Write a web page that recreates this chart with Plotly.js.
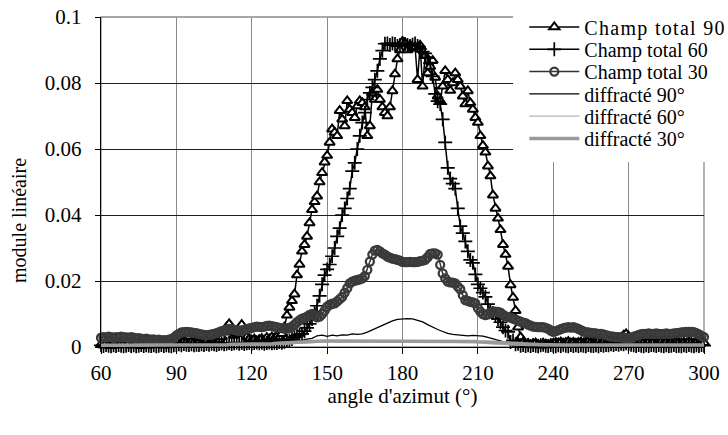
<!DOCTYPE html>
<html>
<head>
<meta charset="utf-8">
<script src="https://cdn.plot.ly/plotly-3.0.1.min.js"></script>
<style>
html,body{margin:0;padding:0;background:#fff;}
#chart{width:728px;height:435px;}
.legendtext{letter-spacing:1.3px;}
</style>
</head>
<body>
<div id="chart"></div>
<script>
// sample grid: azimuth angle, 1 degree steps 60..300
var angle = [];
for (var a = 60; a <= 300; a++) angle.push(a);
// diffracted fields sampled every 2 degrees 60..300
var angleDiff = [];
for (var b = 60; b <= 300; b += 2) angleDiff.push(b);

var total90 = [
0.0008,0.0005,0.001,0.0006,0.0004,0.0009,0.0007,0.0005,0.001,0.0008,
0.0006,0.0009,0.0005,0.0008,0.001,0.0006,0.0004,0.0008,0.0007,0.0005,
0.0009,0.0006,0.0008,0.0011,0.0007,0.0005,0.0009,0.0006,0.0008,0.001,
0.0012,0.0015,0.0013,0.0017,0.0014,0.0012,0.0016,0.0013,0.0011,0.0014,
0.0012,0.0015,0.0018,0.0014,0.0016,0.002,0.0018,0.0022,0.003,0.0045,
0.006,0.007,0.005,0.0035,0.004,0.0055,0.0068,0.005,0.003,0.0025,
0.002,0.0024,0.0018,0.0022,0.0025,0.002,0.0028,0.0024,0.003,0.0027,
0.0032,0.003,0.004,0.006,0.0096,0.012,0.014,0.016,0.0218,0.025,
0.029,0.031,0.0335,0.0376,0.0416,0.044,0.0457,0.05,0.0528,0.056,
0.058,0.062,0.066,0.065,0.064,0.0716,0.069,0.067,0.0746,0.072,
0.071,0.0695,0.073,0.0746,0.074,0.0727,0.064,0.067,0.077,0.075,
0.078,0.075,0.0727,0.071,0.07,0.0727,0.0776,0.0827,0.0873,0.09,
0.0925,0.092,0.09,0.0915,0.0905,0.0909,0.081,0.0914,0.079,0.0883,
0.083,0.085,0.0868,0.0817,0.076,0.0746,0.079,0.0837,0.081,0.0777,
0.08,0.083,0.081,0.079,0.076,0.0736,0.0776,0.074,0.072,0.0695,
0.068,0.064,0.061,0.059,0.0548,0.0518,0.046,0.042,0.039,0.0355,
0.031,0.028,0.0244,0.0188,0.015,0.011,0.006,0.003,0.0015,0.0008,
0.001,0.0006,0.0009,0.0012,0.0007,0.0005,0.001,0.0008,0.0006,0.0009,
0.0011,0.0014,0.0012,0.0015,0.001,0.0013,0.0016,0.0012,0.0014,0.0011,
0.0013,0.0015,0.0012,0.0016,0.0018,0.0014,0.0012,0.0015,0.0017,0.0013,
0.0015,0.0012,0.0016,0.0019,0.0015,0.0018,0.0022,0.0028,0.0035,0.004,
0.0032,0.0025,0.0018,0.0014,0.0012,0.0016,0.0013,0.0011,0.0015,0.0012,
0.0014,0.001,0.0013,0.0016,0.0012,0.0015,0.0011,0.0014,0.0012,0.0015,
0.0013,0.0011,0.0014,0.0012,0.0016,0.0013,0.0011,0.0014,0.0012,0.0015,
0.0013];

var total60 = [
0.0005,0.0003,0.0006,0.0004,0.0002,0.0005,0.0003,0.0006,0.0004,0.0002,
0.0004,0.0006,0.0003,0.0005,0.0002,0.0004,0.0006,0.0003,0.0005,0.0004,
0.0003,0.0005,0.0002,0.0004,0.0006,0.0003,0.0005,0.0004,0.0002,0.0005,
0.0006,0.0008,0.0005,0.0009,0.0007,0.0006,0.0008,0.0005,0.0007,0.0006,
0.0008,0.0006,0.0009,0.0007,0.001,0.0008,0.0006,0.0009,0.0011,0.0008,
0.001,0.0012,0.0009,0.0011,0.0013,0.001,0.0012,0.0009,0.0011,0.0013,
0.001,0.0012,0.0014,0.0011,0.0013,0.001,0.0012,0.0014,0.0011,0.0013,
0.0012,0.0015,0.0013,0.0016,0.0018,0.002,0.0024,0.003,0.0034,0.0038,
0.004,0.0048,0.0058,0.007,0.0085,0.0105,0.0125,0.0155,0.019,0.0218,
0.0235,0.025,0.0275,0.03,0.0335,0.036,0.04,0.042,0.045,0.048,
0.0533,0.0558,0.06,0.064,0.068,0.071,0.075,0.077,0.0787,0.081,
0.0837,0.0873,0.0898,0.0919,0.092,0.0915,0.092,0.0918,0.0912,0.0915,
0.092,0.0918,0.0915,0.0912,0.0916,0.092,0.0912,0.0903,0.0895,0.089,
0.0875,0.086,0.082,0.0767,0.0745,0.0736,0.069,0.062,0.0543,0.051,
0.0495,0.048,0.042,0.0366,0.0345,0.032,0.029,0.0264,0.0255,0.022,
0.019,0.0178,0.0165,0.0152,0.013,0.011,0.0103,0.0097,0.0085,0.0075,
0.006,0.005,0.0046,0.0015,0.002,0.0008,0.001,0.0004,0.0006,0.0003,
0.0005,0.0003,0.0006,0.0004,0.0002,0.0005,0.0007,0.0004,0.0003,0.0006,
0.0004,0.0002,0.0005,0.0003,0.0007,0.0004,0.0002,0.0006,0.0003,0.0005,
0.0003,0.0005,0.0004,0.0002,0.0006,0.0004,0.0003,0.0005,0.0002,0.0006,
0.0004,0.0006,0.0005,0.0008,0.0006,0.0009,0.0007,0.001,0.0008,0.0011,
0.0009,0.0007,0.0005,0.0003,0.0006,0.0004,0.0002,0.0005,0.0003,0.0006,
0.0005,0.0003,0.0006,0.0004,0.0002,0.0005,0.0003,0.0004,0.0006,0.0003,
0.0004,0.0002,0.0005,0.0003,0.0006,0.0004,0.0002,0.0005,0.0003,0.0006,
0.0004];

var total30 = [
0.0028,0.003,0.0029,0.0031,0.003,0.0028,0.003,0.0029,0.0031,0.003,
0.0029,0.0028,0.003,0.0028,0.0026,0.0027,0.0025,0.0024,0.0025,0.0023,
0.0022,0.0023,0.0021,0.0022,0.002,0.0021,0.002,0.0022,0.0024,0.0028,
0.0035,0.004,0.0044,0.0045,0.0046,0.0045,0.0044,0.0043,0.0042,0.004,
0.0038,0.0037,0.0036,0.0037,0.0038,0.004,0.0042,0.0045,0.0048,0.005,
0.0053,0.0055,0.0054,0.0052,0.005,0.0049,0.005,0.0052,0.0054,0.0056,
0.0058,0.006,0.0062,0.0061,0.006,0.0062,0.0064,0.0065,0.0063,0.0062,
0.006,0.0058,0.0057,0.0056,0.0056,0.0058,0.0062,0.0068,0.0075,0.0081,
0.0086,0.0088,0.0092,0.0097,0.01,0.0095,0.009,0.0092,0.01,0.011,
0.0122,0.0128,0.0131,0.0132,0.0138,0.0145,0.0152,0.0165,0.0178,0.0193,
0.0198,0.0201,0.0203,0.0205,0.0208,0.0215,0.0234,0.0259,0.028,0.0292,
0.0294,0.029,0.0284,0.028,0.0274,0.0271,0.0268,0.0266,0.0264,0.0262,
0.0258,0.0257,0.0257,0.0258,0.0257,0.0257,0.0258,0.026,0.0262,0.0264,
0.0272,0.0282,0.0284,0.0284,0.028,0.0249,0.0223,0.0208,0.0198,0.0196,
0.0195,0.0193,0.0183,0.0175,0.0157,0.0142,0.014,0.0137,0.0135,0.0132,
0.0118,0.0107,0.01,0.0097,0.0099,0.0105,0.0107,0.0107,0.0106,0.0104,
0.0098,0.0093,0.0091,0.0089,0.0086,0.0083,0.008,0.0077,0.0074,0.0072,
0.0068,0.0065,0.0062,0.0061,0.006,0.006,0.006,0.0058,0.0055,0.005,
0.0046,0.0048,0.0051,0.0054,0.0057,0.0059,0.006,0.0059,0.006,0.0058,
0.0055,0.0051,0.0047,0.0045,0.0044,0.0043,0.0042,0.0041,0.004,0.004,
0.0038,0.0036,0.0034,0.0032,0.0031,0.003,0.003,0.0029,0.0028,0.0027,
0.0026,0.0028,0.0031,0.0034,0.0037,0.0039,0.004,0.004,0.0041,0.004,
0.004,0.0041,0.004,0.0039,0.004,0.0041,0.004,0.004,0.0041,0.0042,
0.0043,0.0044,0.0045,0.0046,0.0046,0.0046,0.0045,0.0042,0.0038,0.0034,
0.003];

var diff90 = [
0.0006,0.0005,0.0006,0.0007,0.0006,0.0005,0.0006,0.0007,0.0006,0.0005,
0.0006,0.0007,0.0006,0.0005,0.0006,0.0007,0.0008,0.0007,0.0006,0.0007,
0.0008,0.0007,0.0008,0.0009,0.0008,0.0009,0.001,0.0009,0.001,0.0011,
0.001,0.0011,0.0012,0.0011,0.0012,0.0013,0.0012,0.0014,0.0015,0.0017,
0.002,0.0024,0.0026,0.0034,0.0036,0.0032,0.0036,0.0034,0.0037,0.0036,
0.004,0.0038,0.004,0.0045,0.0052,0.0058,0.0064,0.0072,0.0079,0.0084,
0.0086,0.0086,0.0085,0.0081,0.0076,0.0068,0.006,0.0053,0.0047,0.0041,
0.0038,0.0036,0.0035,0.0034,0.0035,0.0034,0.0033,0.0029,0.0024,0.002,
0.0016,0.0012,0.0009,0.0007,0.0006,0.0005,0.0005,0.0004,0.0005,0.0004,
0.0004,0.0005,0.0004,0.0005,0.0004,0.0005,0.0004,0.0005,0.0004,0.0005,
0.0004,0.0005,0.0004,0.0005,0.0004,0.0005,0.0004,0.0005,0.0004,0.0005,
0.0004,0.0005,0.0004,0.0005,0.0004,0.0005,0.0004,0.0005,0.0004,0.0005,
0.0004];

var diff60 = [
0.0004,0.0004,0.0004,0.0004,0.0004,0.0004,0.0004,0.0004,0.0004,0.0004,
0.0004,0.0004,0.0004,0.0004,0.0004,0.0004,0.0004,0.0004,0.0004,0.0004,
0.0004,0.0004,0.0004,0.0005,0.0004,0.0005,0.0005,0.0005,0.0005,0.0005,
0.0005,0.0005,0.0006,0.0006,0.0007,0.0007,0.0008,0.0009,0.001,0.0011,
0.0012,0.0013,0.0014,0.0013,0.0015,0.0014,0.0016,0.0015,0.0014,0.0016,
0.0015,0.0017,0.0016,0.0015,0.0017,0.0016,0.0015,0.0017,0.0016,0.0017,
0.0016,0.0017,0.0016,0.0015,0.0017,0.0016,0.0015,0.0016,0.0014,0.0015,
0.0014,0.0015,0.0014,0.0013,0.0014,0.0012,0.0011,0.001,0.0009,0.0008,
0.0007,0.0006,0.0005,0.0005,0.0004,0.0004,0.0004,0.0004,0.0004,0.0004,
0.0004,0.0004,0.0004,0.0004,0.0004,0.0004,0.0004,0.0004,0.0004,0.0004,
0.0004,0.0004,0.0004,0.0004,0.0004,0.0004,0.0004,0.0004,0.0004,0.0004,
0.0004,0.0004,0.0004,0.0004,0.0004,0.0004,0.0004,0.0004,0.0004,0.0004,
0.0004];

var diff30 = [
0.0005,0.0005,0.0005,0.0005,0.0005,0.0005,0.0005,0.0005,0.0005,0.0005,
0.0005,0.0005,0.0005,0.0005,0.0005,0.0005,0.0005,0.0006,0.0006,0.0006,
0.0006,0.0006,0.0007,0.0007,0.0007,0.0007,0.0008,0.0008,0.0008,0.0008,
0.0008,0.0009,0.0009,0.001,0.001,0.0011,0.0012,0.0013,0.0014,0.0015,
0.0016,0.0016,0.0017,0.0017,0.0018,0.0018,0.0018,0.0019,0.0019,0.0019,
0.0019,0.0019,0.0019,0.0019,0.0019,0.0019,0.0019,0.0019,0.0019,0.0019,
0.0019,0.0019,0.0019,0.0019,0.0019,0.0019,0.0019,0.0019,0.0019,0.0019,
0.0018,0.0018,0.0018,0.0017,0.0017,0.0016,0.0016,0.0015,0.0015,0.0014,
0.0013,0.0012,0.0011,0.001,0.0009,0.0008,0.0008,0.0007,0.0007,0.0007,
0.0006,0.0006,0.0006,0.0006,0.0006,0.0006,0.0006,0.0006,0.0006,0.0006,
0.0006,0.0006,0.0006,0.0006,0.0006,0.0006,0.0006,0.0006,0.0006,0.0006,
0.0006,0.0006,0.0006,0.0006,0.0006,0.0006,0.0006,0.0006,0.0006,0.0006,
0.0006];

var seriesNames = ['Champ total 90','Champ total 60','Champ total 30','diffracté 90°','diffracté 60°','diffracté 30°'];
var xTicks = [60,90,120,150,180,210,240,270,300];
var yTicks = [0,0.02,0.04,0.06,0.08,0.1];

var F = 'Liberation Serif, Tinos, Times New Roman, Times, serif';

var traces = [
  {x: angle, y: total90, name: seriesNames[0], mode: 'lines+markers', legend: 'legend', cliponaxis: false,
   line: {color: '#000', width: 1.5},
   marker: {symbol: 'triangle-up', size: 9, color: '#fff', line: {color: '#000', width: 2}}},
  {x: angle, y: total60, name: seriesNames[1], mode: 'lines+markers', legend: 'legend2', cliponaxis: false,
   line: {color: '#000', width: 1.5},
   marker: {symbol: 'cross-thin', size: 10, color: '#000', line: {color: '#000', width: 1.7}}},
  {x: angle, y: total30, name: seriesNames[2], mode: 'lines+markers', legend: 'legend3', cliponaxis: false,
   line: {color: '#333', width: 1.5},
   marker: {symbol: 'circle-open', size: 8, color: '#3a3a3a', line: {width: 2.3}}},
  {x: angleDiff, y: diff90, name: seriesNames[3], mode: 'lines', legend: 'legend4',
   line: {color: '#000', width: 1.3}},
  {x: angleDiff, y: diff60, name: seriesNames[4], mode: 'lines', legend: 'legend5',
   line: {color: '#b4b4b4', width: 1.3}},
  {x: angleDiff, y: diff30, name: seriesNames[5], mode: 'lines', legend: 'legend6',
   line: {color: '#9a9a9a', width: 3.5}}
];

function leg(y) {
  return {x: 0.702, xanchor: 'left', y: y, yanchor: 'middle', bgcolor: 'rgba(0,0,0,0)',
          borderwidth: 0, font: {family: F, size: 20, color: '#000'}, itemwidth: 50};
}

var layout = {
  width: 728, height: 435,
  margin: {l: 101, r: 24, t: 17, b: 88, autoexpand: false},
  paper_bgcolor: '#fff', plot_bgcolor: '#fff',
  font: {family: F, color: '#000', size: 20},
  showlegend: true,
  xaxis: {range: [60, 300], tickvals: xTicks, ticktext: xTicks.map(String),
          showgrid: true, gridcolor: '#8a8a8a', gridwidth: 1, zeroline: false,
          showline: true, linecolor: '#000', linewidth: 1.3,
          ticks: 'outside', ticklen: 6, tickcolor: '#000', tickwidth: 1,
          tickfont: {family: F, size: 21, color: '#000'}, automargin: true,
          title: {text: "angle d'azimut (°)", font: {family: F, size: 21, color: '#000'}, standoff: 3}},
  yaxis: {range: [0, 0.1], tickvals: yTicks, ticktext: ['0','0.02','0.04','0.06','0.08','0.1'],
          showgrid: true, gridcolor: '#1e1e1e', gridwidth: 1, zeroline: false,
          showline: true, linecolor: '#000', linewidth: 1.3,
          ticks: 'outside', ticklen: 5, tickcolor: '#000', tickwidth: 1,
          tickfont: {family: F, size: 21, color: '#000'}, ticklabelstandoff: 9},
  shapes: [
    {type: 'rect', xref: 'paper', yref: 'paper', x0: 0, x1: 1, y0: 0, y1: 1,
     line: {color: '#8a8a8a', width: 1.3}, layer: 'below'},
    {type: 'rect', xref: 'paper', yref: 'paper', x0: 0.6833, x1: 1.06, y0: 0.5606, y1: 1.05,
     line: {width: 0}, fillcolor: '#fff', layer: 'above'}
  ],
  annotations: [
    {text: 'module linéaire', xref: 'paper', yref: 'paper', x: -0.136, y: 0.385,
     textangle: -90, showarrow: false, font: {family: F, size: 20, color: '#000'},
     xanchor: 'center', yanchor: 'middle'}
  ],
  legend: leg(0.9697),
  legend2: leg(0.902),
  legend3: leg(0.8345),
  legend4: leg(0.767),
  legend5: leg(0.6994),
  legend6: leg(0.6318)
};

Plotly.newPlot('chart', traces, layout, {displayModeBar: false, staticPlot: true});
</script>
</body>
</html>
